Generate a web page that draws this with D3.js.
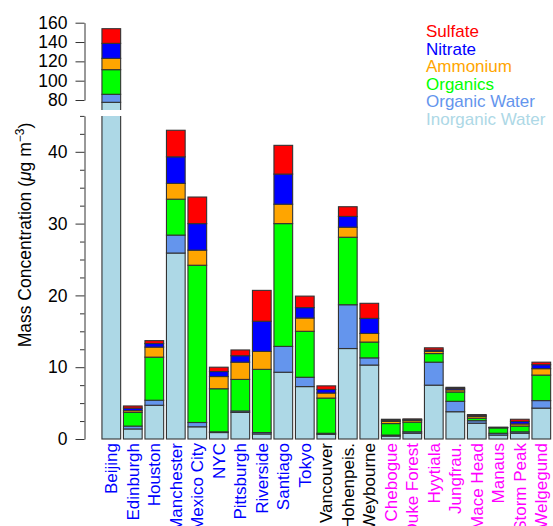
<!DOCTYPE html>
<html><head><meta charset="utf-8">
<script src="https://cdn.jsdelivr.net/npm/d3@7"></script>
<style>body{margin:0;background:#fff}svg{display:block}text{font-family:"Liberation Sans",Arial,Helvetica,sans-serif}</style>
</head><body><svg id="c" width="553" height="526"></svg>
<script>
const sites = ["Beijing","Edinburgh","Houston","Manchester","Mexico City","NYC","Pittsburgh","Riverside","Santiago","Tokyo","Vancouver","Hohenpeis.","Weybourne","Chebogue","Duke Forest","Hyytiala","Jungfrau.","Mace Head","Manaus","Storm Peak","Welgegund"];
const siteColors = ["#0000FF","#0000FF","#0000FF","#0000FF","#0000FF","#0000FF","#0000FF","#0000FF","#0000FF","#0000FF","#000000","#000000","#000000","#FF00FF","#FF00FF","#FF00FF","#FF00FF","#FF00FF","#FF00FF","#FF00FF","#FF00FF"];
const inorganicWater = [77.6,1.4,4.7,25.9,1.7,0.9,3.7,0.7,9.3,7.3,0.65,12.6,10.3,0.4,0.8,7.5,3.8,2.2,0.55,0.8,4.3];
const organicWater   = [8.3,0.4,0.7,2.5,0.6,0.1,0.2,0.2,3.6,1.3,0.15,6.1,1.0,0.15,0.2,3.2,1.45,0.35,0.25,0.2,1.05];
const organics       = [25.5,1.9,6.0,5.0,21.9,6.0,4.4,8.8,17.1,6.4,4.9,9.4,2.2,1.6,1.35,1.2,1.3,0.35,0.75,0.8,3.55];
const ammonium       = [11.7,0.25,1.4,2.2,2.1,1.7,2.4,2.5,2.7,1.85,0.7,1.4,1.2,0.3,0.25,0.3,0.3,0.25,0.03,0.3,0.9];
const nitrate        = [15.5,0.35,0.5,3.7,3.7,0.7,0.9,4.2,4.2,1.45,0.5,1.5,2.1,0.15,0.1,0.2,0.2,0.15,0.03,0.35,0.55];
const sulfate        = [15.2,0.3,0.4,3.7,3.7,0.6,0.8,4.3,4.0,1.6,0.5,1.35,2.1,0.15,0.1,0.3,0.15,0.1,0.03,0.3,0.35];
const componentNames = ["Inorganic Water","Organic Water","Organics","Ammonium","Nitrate","Sulfate"];
const componentColors = ["#ADD8E6","#6495ED","#00FF00","#FFA500","#0000FF","#FF0000"];
const lowerMajorTicks = [0,10,20,30,40];
const lowerMinorTicks = [2.5,5,7.5,12.5,15,17.5,22.5,25,27.5,32.5,35,37.5,42.5,45];
const upperTicks = [80,100,120,140,160];

const series = [inorganicWater,organicWater,organics,ammonium,nitrate,sulfate];
const rows = sites.map((s,i)=>{const r={site:s};componentNames.forEach((c,k)=>r[c]=series[k][i]);return r;});
const stacked = d3.stack().keys(componentNames)(rows);

const svg = d3.select("#c");
const axisX = 84.5;
const x = d3.scaleBand().domain(sites).range([100.55,552.05]).paddingInner(0.13).paddingOuter(0.065);
const yLow = d3.scaleLinear().domain([0,45]).range([439,115.9]);
const yUp = d3.scaleLinear().domain([80,160]).range([100,22.7]);

const defs = svg.append("defs");
defs.append("clipPath").attr("id","clipLow").append("rect").attr("x",0).attr("y",yLow(45)).attr("width",553).attr("height",yLow(0)-yLow(45)+3);
defs.append("clipPath").attr("id","clipUp").append("rect").attr("x",0).attr("y",0).attr("width",553).attr("height",110);

function drawBars(g, y, filter){
  stacked.forEach((layer,k)=>{
    g.selectAll(null).data(layer.filter((d,i)=>filter(i))).enter().append("rect")
      .attr("x",d=>x(d.data.site))
      .attr("width",x.bandwidth())
      .attr("y",d=>y(d[1]))
      .attr("height",d=>Math.max(0,y(d[0])-y(d[1])))
      .attr("fill",componentColors[k])
      .attr("stroke","#333").attr("stroke-width",1.1);
  });
}
drawBars(svg.append("g").attr("clip-path","url(#clipLow)"), yLow, i=>true);
drawBars(svg.append("g").attr("clip-path","url(#clipUp)"), yUp, i=>i===0);

// axes
const fs = "17.5px";
const gLow = svg.append("g").attr("transform",`translate(${axisX},0)`);
gLow.call(d3.axisLeft(yLow).tickValues(lowerMinorTicks).tickSize(4.5).tickFormat(""));
gLow.call(g=>g.selectAll(".domain").remove());
const gLowMaj = svg.append("g").attr("transform",`translate(${axisX},0)`)
  .call(d3.axisLeft(yLow).tickValues(lowerMajorTicks).tickSize(9).tickPadding(8).tickSizeOuter(0));
const gUp = svg.append("g").attr("transform",`translate(${axisX},0)`)
  .call(d3.axisLeft(yUp).tickValues(upperTicks).tickSize(9).tickPadding(8).tickSizeOuter(0));
[gLow,gLowMaj,gUp].forEach(g=>{
  g.selectAll("line").attr("stroke","#333");
  g.selectAll(".domain").attr("stroke","#333");
  g.selectAll("text").attr("font-size",fs).attr("fill","#000").attr("font-family","Liberation Sans, Arial, sans-serif");
});

// y axis title
const title = svg.append("text").attr("transform","translate(31,235) rotate(-90)")
  .attr("text-anchor","middle").attr("font-size",fs).attr("fill","#000");
title.append("tspan").text("Mass Concentration (");
title.append("tspan").attr("font-style","italic").text("μ");
title.append("tspan").text("g m");
title.append("tspan").attr("dy","-7").attr("font-size","12px").text("−3");
title.append("tspan").attr("dy","7").text(")");

// category labels
svg.append("g").selectAll("text").data(sites).enter().append("text")
  .attr("transform",d=>`translate(${x(d)+x.bandwidth()/2},443) rotate(-90)`)
  .attr("text-anchor","end").attr("dy","0.35em").attr("font-size","17px")
  .attr("fill",(d,i)=>siteColors[i]).text(d=>d);

// legend
const legendOrder = ["Sulfate","Nitrate","Ammonium","Organics","Organic Water","Inorganic Water"];
svg.append("g").selectAll("text").data(legendOrder).enter().append("text")
  .attr("x",426).attr("y",(d,i)=>37.3+i*17.5)
  .attr("font-size","17px")
  .attr("fill",d=>componentColors[componentNames.indexOf(d)])
  .text(d=>d);
</script></body></html>
